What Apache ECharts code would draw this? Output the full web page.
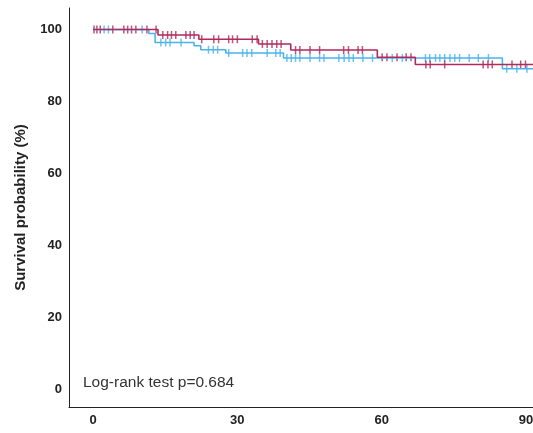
<!DOCTYPE html>
<html>
<head>
<meta charset="utf-8">
<script src="https://cdn.jsdelivr.net/npm/echarts@6/dist/echarts.min.js"></script>
<style>
  html, body { margin: 0; padding: 0; background: #fff; }
  #km-chart { width: 533px; height: 433px; }
</style>
</head>
<body>
<div id="km-chart"></div>
<script>
// survival curves: [time, survival %] at each drop
const redSteps = [[0, 100], [13.5, 98.5], [22.0, 97.3], [34.4, 96.0], [41.1, 94.3], [59.1, 92.3], [67.0, 90.3], [95, 90.3]]
const blueSteps = [[0, 100], [11.6, 98.9], [12.9, 96.4], [21.0, 95.5], [22.4, 94.4], [27.6, 93.5], [39.6, 92.1], [85.1, 89.1], [95, 89.1]]

// censored times
const redCensor = [0.2, 0.8, 1.5, 4.1, 6.4, 7.2, 8.0, 8.9, 11.2, 13.1,
  14.5, 15.5, 16.3, 17.2, 19.3, 20.2, 21.0,
  22.6, 25.1, 26.1, 28.2, 29.0, 30.0, 33.1, 34.1,
  35.2, 36.2, 37.2, 38.2, 39.1,
  42.1, 43.0, 45.1, 47.1, 52.1, 53.1, 55.1, 56.0,
  60.1, 61.1, 63.2, 65.1, 66.1,
  69.2, 70.1, 73.1, 81.1, 82.1, 83.0, 87.1, 88.9, 89.9]
const blueCensor = [2.3, 3.2, 10.2,
  14.1, 15.1, 16.0, 18.3,
  24.0, 25.0, 25.9,
  28.2, 31.1, 32.0, 33.0, 36.2, 38.0, 38.9,
  40.3, 41.2, 42.1, 43.0, 45.1, 47.1, 48.0, 51.1, 52.2, 53.2, 54.1, 56.1, 58.1,
  62.2, 64.3, 69.1, 70.0, 71.2, 72.1, 73.1, 74.2, 75.2, 76.2, 78.2, 80.1, 82.2,
  86.0, 88.1, 90.2]

const xTicks = [0, 30, 60, 90]
const yTicks = [0, 20, 40, 60, 80, 100]
const testLabel = 'Log-rank test p=0.684'

const red = '#b02a5b'
const blue = '#4ab3ee'

function survivalAt (steps, t) {
  let s = steps[0][1]
  steps.forEach(p => {
    if (p[0] <= t) s = p[1]
  })
  return s
}

const kmChart = echarts.init(document.getElementById('km-chart'))
const option = {
  animation: false,
  textStyle: { fontFamily: 'Liberation Sans, Arial, sans-serif' },
  grid: { left: 69, top: 8, width: 481, height: 399, containLabel: false, outerBoundsMode: 'none' },
  xAxis: {
    type: 'value',
    min: -5,
    max: 95,
    interval: 5,
    axisLine: { onZero: false, lineStyle: { color: '#222', width: 1 } },
    axisTick: { show: false },
    splitLine: { show: false },
    axisLabel: {
      margin: 7,
      fontSize: 13,
      fontWeight: 'bold',
      color: '#222',
      formatter: v => xTicks.includes(v) ? String(v) : ''
    }
  },
  yAxis: {
    type: 'value',
    min: -5,
    max: 106,
    interval: 5,
    name: 'Survival probability (%)',
    nameLocation: 'middle',
    nameGap: 41,
    nameTextStyle: { fontSize: 15, fontWeight: 'bold', color: '#222' },
    axisLine: { show: true, onZero: false, lineStyle: { color: '#222', width: 1 } },
    axisTick: { show: false },
    splitLine: { show: false },
    axisLabel: {
      margin: 7,
      fontSize: 13,
      fontWeight: 'bold',
      color: '#222',
      formatter: v => yTicks.includes(v) ? String(v) : ''
    }
  },
  graphic: [
    {
      type: 'text',
      left: 83,
      top: 375,
      style: { text: testLabel, fill: '#333', font: '15.5px Liberation Sans, Arial, sans-serif' }
    }
  ],
  series: [
    {
      type: 'line',
      step: 'end',
      data: blueSteps,
      showSymbol: false,
      silent: true,
      lineStyle: { color: blue, width: 1.6 }
    },
    {
      type: 'scatter',
      data: blueCensor.map(t => [t, survivalAt(blueSteps, t)]),
      symbol: 'rect',
      symbolSize: [1.5, 8],
      silent: true,
      itemStyle: { color: blue }
    },
    {
      type: 'line',
      step: 'end',
      data: redSteps,
      showSymbol: false,
      silent: true,
      lineStyle: { color: red, width: 1.6 }
    },
    {
      type: 'scatter',
      data: redCensor.map(t => [t, survivalAt(redSteps, t)]),
      symbol: 'rect',
      symbolSize: [1.5, 8],
      silent: true,
      itemStyle: { color: red }
    }
  ]
}
kmChart.setOption(option)
</script>
</body>
</html>
